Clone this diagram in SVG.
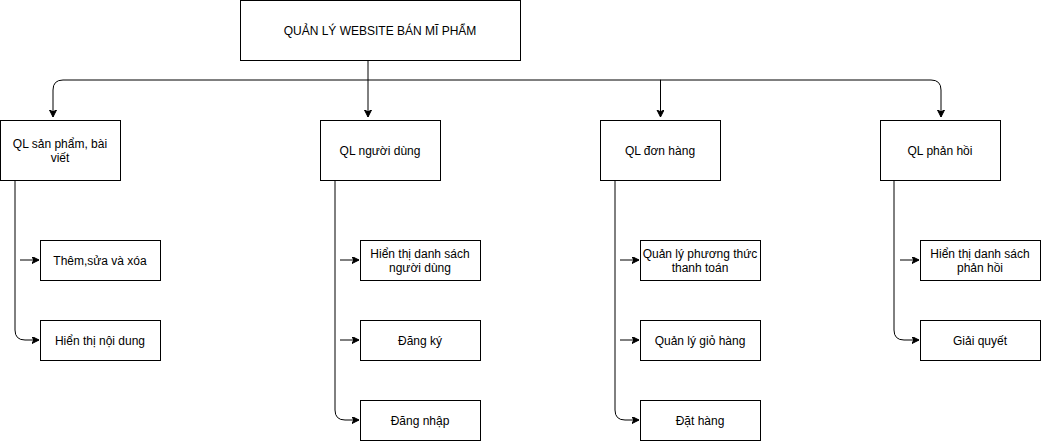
<svg xmlns="http://www.w3.org/2000/svg" width="1041" height="441" viewBox="0 0 1041 441">
<style>
.box{fill:#fff;stroke:#000;stroke-width:1}
.t{font-family:"Liberation Sans",Arial,sans-serif;font-size:12px;fill:#000;text-anchor:middle}
.e{fill:none;stroke:#000;stroke-width:1}
</style>
<defs>
<marker id="arr" markerUnits="userSpaceOnUse" markerWidth="10" markerHeight="10" refX="7" refY="3.5" orient="auto">
<path d="M0,0 L7,3.5 L0,7 L1.75,3.5 Z" fill="#000" stroke="#000" stroke-width="1"/>
</marker>
</defs>
<rect width="1041" height="441" fill="#fff"/>
<g id="connectors">
<path class="e" d="M368,60 L368,117" marker-end="url(#arr)"/>
<path class="e" d="M368,80 L63,80 Q53,80 53,90 L53,117" marker-end="url(#arr)"/>
<path class="e" d="M368,80 L660.5,80 L660.5,117" marker-end="url(#arr)"/>
<path class="e" d="M660,80 L931,80 Q941,80 941,90 L941,117" marker-end="url(#arr)"/>
<path class="e" d="M15,180 L15,330 Q15,340 25,340 L39,340" marker-end="url(#arr)"/>
<path class="e" d="M20,260 L39,260" marker-end="url(#arr)"/>
<path class="e" d="M335,180 L335,410 Q335,420 345,420 L359,420" marker-end="url(#arr)"/>
<path class="e" d="M340,260 L359,260" marker-end="url(#arr)"/>
<path class="e" d="M340,340 L359,340" marker-end="url(#arr)"/>
<path class="e" d="M615,180 L615,410 Q615,420 625,420 L639,420" marker-end="url(#arr)"/>
<path class="e" d="M620,260 L639,260" marker-end="url(#arr)"/>
<path class="e" d="M620,340 L639,340" marker-end="url(#arr)"/>
<path class="e" d="M894,180 L894,330 Q894,340 904,340 L919,340" marker-end="url(#arr)"/>
<path class="e" d="M900,260 L919,260" marker-end="url(#arr)"/>
</g>
<g id="root"><rect class="box" x="240.5" y="0.5" width="280" height="60"/><text class="t" x="380" y="35">QUẢN LÝ WEBSITE BÁN MĨ PHẨM</text></g>
<g id="n1"><rect class="box" x="0.5" y="120.5" width="120" height="60"/><text class="t" x="60" y="148">QL sản phẩm, bài</text><text class="t" x="60" y="162">viết</text></g>
<g id="n2"><rect class="box" x="320.5" y="120.5" width="120" height="60"/><text class="t" x="380" y="155">QL người dùng</text></g>
<g id="n3"><rect class="box" x="600.5" y="120.5" width="120" height="60"/><text class="t" x="660" y="155">QL đơn hàng</text></g>
<g id="n4"><rect class="box" x="880.5" y="120.5" width="120" height="60"/><text class="t" x="940" y="155">QL phản hồi</text></g>
<g id="c11"><rect class="box" x="40.5" y="240.5" width="120" height="40"/><text class="t" x="100" y="265">Thêm,sửa và xóa</text></g>
<g id="c12"><rect class="box" x="40.5" y="320.5" width="120" height="40"/><text class="t" x="100" y="345">Hiển thị nội dung</text></g>
<g id="c21"><rect class="box" x="360.5" y="240.5" width="120" height="40"/><text class="t" x="420" y="258">Hiển thị danh sách</text><text class="t" x="420" y="272">người dùng</text></g>
<g id="c22"><rect class="box" x="360.5" y="320.5" width="120" height="40"/><text class="t" x="420" y="345">Đăng ký</text></g>
<g id="c23"><rect class="box" x="360.5" y="400.5" width="120" height="40"/><text class="t" x="420" y="425">Đăng nhập</text></g>
<g id="c31"><rect class="box" x="640.5" y="240.5" width="120" height="40"/><text class="t" x="700" y="258">Quản lý phương thức</text><text class="t" x="700" y="272">thanh toán</text></g>
<g id="c32"><rect class="box" x="640.5" y="320.5" width="120" height="40"/><text class="t" x="700" y="345">Quản lý giỏ hàng</text></g>
<g id="c33"><rect class="box" x="640.5" y="400.5" width="120" height="40"/><text class="t" x="700" y="425">Đặt hàng</text></g>
<g id="c41"><rect class="box" x="920.5" y="240.5" width="120" height="40"/><text class="t" x="980" y="258">Hiển thị danh sách</text><text class="t" x="980" y="272">phản hồi</text></g>
<g id="c42"><rect class="box" x="920.5" y="320.5" width="120" height="40"/><text class="t" x="980" y="345">Giải quyết</text></g>
</svg>
